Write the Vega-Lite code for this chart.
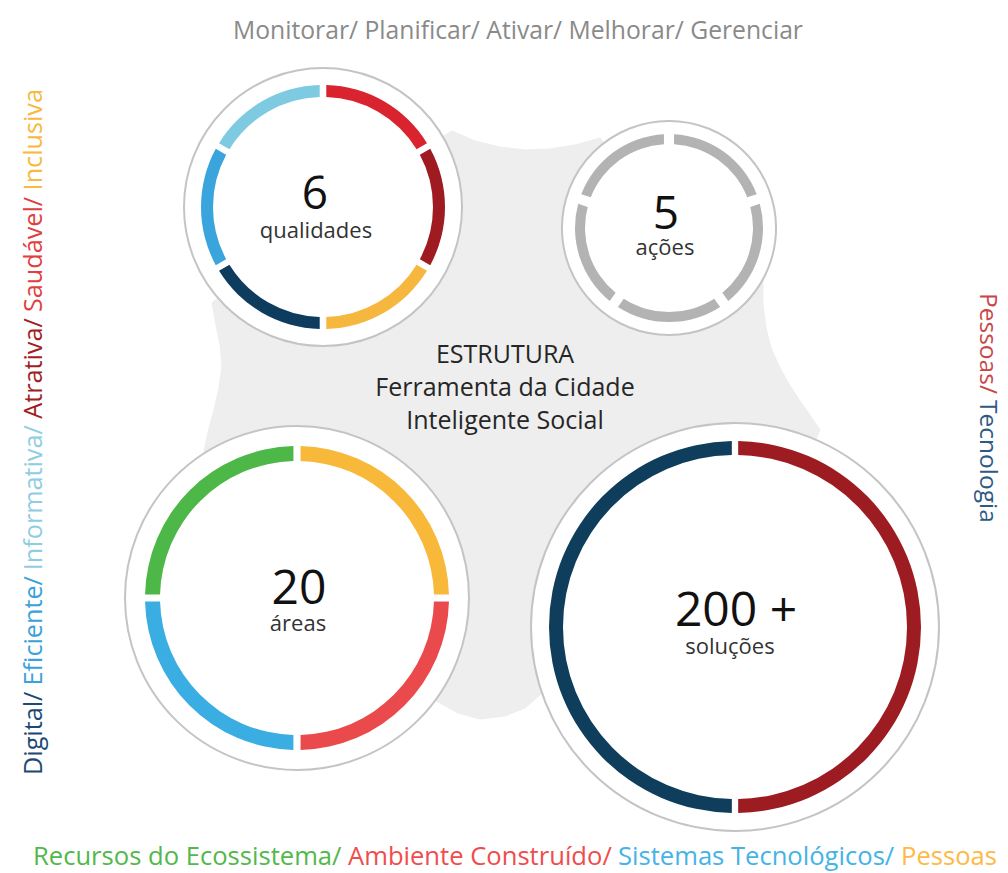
{
  "$schema": "https://vega.github.io/schema/vega-lite/v6.json",
  "width": 1008,
  "height": 873,
  "padding": 0,
  "autosize": {"type": "none"},
  "background": "white",
  "config": {"view": {"stroke": null}, "font": "Open Sans"},
  "resolve": {"scale": {"color": "independent"}},
  "datasets": {
    "blob": [
      {"i": 1, "x": 322, "y": 207}, {"i": 2, "x": 452, "y": 131}, {"i": 3, "x": 475, "y": 141},
      {"i": 4, "x": 500, "y": 147}, {"i": 5, "x": 525, "y": 150}, {"i": 6, "x": 550, "y": 149},
      {"i": 7, "x": 575, "y": 145}, {"i": 8, "x": 600, "y": 138}, {"i": 9, "x": 669, "y": 228},
      {"i": 10, "x": 763, "y": 280}, {"i": 11, "x": 763, "y": 305}, {"i": 12, "x": 766, "y": 328},
      {"i": 13, "x": 771, "y": 348}, {"i": 14, "x": 779, "y": 366}, {"i": 15, "x": 789, "y": 384},
      {"i": 16, "x": 800, "y": 401}, {"i": 17, "x": 812, "y": 418}, {"i": 18, "x": 820, "y": 430},
      {"i": 19, "x": 735, "y": 627}, {"i": 20, "x": 541, "y": 694}, {"i": 21, "x": 525, "y": 708},
      {"i": 22, "x": 505, "y": 716}, {"i": 23, "x": 480, "y": 719}, {"i": 24, "x": 458, "y": 713},
      {"i": 25, "x": 438, "y": 702}, {"i": 26, "x": 297, "y": 598}, {"i": 27, "x": 204, "y": 452},
      {"i": 28, "x": 208, "y": 432}, {"i": 29, "x": 214, "y": 410}, {"i": 30, "x": 219, "y": 388},
      {"i": 31, "x": 222, "y": 366}, {"i": 32, "x": 220, "y": 345}, {"i": 33, "x": 216, "y": 325},
      {"i": 34, "x": 212, "y": 303}
    ],
    "circles": [
      {"ring": "qualidades", "x": 323, "y": 207, "start": 0, "end": 360},
      {"ring": "acoes", "x": 669, "y": 228, "start": 0, "end": 360},
      {"ring": "areas", "x": 297, "y": 598, "start": 0, "end": 360},
      {"ring": "solucoes", "x": 735, "y": 627, "start": 0, "end": 360}
    ],
    "segments": [
      {"ring": "qualidades", "x": 323, "y": 207, "start": 0, "end": 60, "cat": "Saudável"},
      {"ring": "qualidades", "x": 323, "y": 207, "start": 60, "end": 120, "cat": "Atrativa"},
      {"ring": "qualidades", "x": 323, "y": 207, "start": 120, "end": 180, "cat": "Inclusiva"},
      {"ring": "qualidades", "x": 323, "y": 207, "start": 180, "end": 240, "cat": "Digital"},
      {"ring": "qualidades", "x": 323, "y": 207, "start": 240, "end": 300, "cat": "Eficiente"},
      {"ring": "qualidades", "x": 323, "y": 207, "start": 300, "end": 360, "cat": "Informativa"},
      {"ring": "acoes", "x": 669, "y": 228, "start": 0, "end": 72, "cat": "Ações"},
      {"ring": "acoes", "x": 669, "y": 228, "start": 72, "end": 144, "cat": "Ações"},
      {"ring": "acoes", "x": 669, "y": 228, "start": 144, "end": 216, "cat": "Ações"},
      {"ring": "acoes", "x": 669, "y": 228, "start": 216, "end": 288, "cat": "Ações"},
      {"ring": "acoes", "x": 669, "y": 228, "start": 288, "end": 360, "cat": "Ações"},
      {"ring": "areas", "x": 297, "y": 598, "start": 0, "end": 90, "cat": "Pessoas (áreas)"},
      {"ring": "areas", "x": 297, "y": 598, "start": 90, "end": 180, "cat": "Ambiente Construído"},
      {"ring": "areas", "x": 297, "y": 598, "start": 180, "end": 270, "cat": "Sistemas Tecnológicos"},
      {"ring": "areas", "x": 297, "y": 598, "start": 270, "end": 360, "cat": "Recursos do Ecossistema"},
      {"ring": "solucoes", "x": 735, "y": 627, "start": 0, "end": 180, "cat": "Pessoas"},
      {"ring": "solucoes", "x": 735, "y": 627, "start": 180, "end": 360, "cat": "Tecnologia"}
    ],
    "left": [
      {"x": 42, "y": 775, "cat": "Digital", "label": "Digital/"},
      {"x": 42, "y": 685.4, "cat": "Eficiente", "label": "Eficiente/"},
      {"x": 42, "y": 570.2, "cat": "Informativa", "label": "Informativa/"},
      {"x": 42, "y": 418.7, "cat": "Atrativa", "label": "Atrativa/"},
      {"x": 42, "y": 312, "cat": "Saudável", "label": "Saudável/"},
      {"x": 42, "y": 190.4, "cat": "Inclusiva", "label": "Inclusiva"}
    ],
    "right": [
      {"x": 980, "y": 293, "cat": "Pessoas", "label": "Pessoas/"},
      {"x": 980, "y": 400, "cat": "Tecnologia", "label": "Tecnologia"}
    ],
    "bottom": [
      {"x": 33, "y": 865, "cat": "Recursos do Ecossistema", "label": "Recursos do Ecossistema/"},
      {"x": 348, "y": 865, "cat": "Ambiente Construído", "label": "Ambiente Construído/"},
      {"x": 618, "y": 865, "cat": "Sistemas Tecnológicos", "label": "Sistemas Tecnológicos/"},
      {"x": 901, "y": 865, "cat": "Pessoas", "label": "Pessoas"}
    ],
    "title": [
      {"x": 518, "y": 39, "label": "Monitorar/ Planificar/ Ativar/ Melhorar/ Gerenciar"}
    ],
    "center": [
      {"x": 505, "y": 363, "label": "ESTRUTURA"},
      {"x": 505, "y": 396, "label": "Ferramenta da Cidade"},
      {"x": 505, "y": 429, "label": "Inteligente Social"}
    ],
    "numbers": [
      {"x": 315, "y": 209, "label": "6", "size": "small"},
      {"x": 666, "y": 229, "label": "5", "size": "small"},
      {"x": 299, "y": 604, "label": "20", "size": "big"},
      {"x": 736, "y": 626, "label": "200 +", "size": "big"}
    ],
    "captions": [
      {"x": 316, "y": 238, "label": "qualidades"},
      {"x": 665, "y": 255, "label": "ações"},
      {"x": 298, "y": 631, "label": "áreas"},
      {"x": 730, "y": 654, "label": "soluções"}
    ]
  },
  "layer": [
    {
      "data": {"name": "blob"},
      "mark": {"type": "line", "interpolate": "linear-closed", "fill": "#eeeeee", "stroke": "#eeeeee", "strokeWidth": 1},
      "encoding": {
        "x": {"field": "x", "type": "quantitative", "scale": {"domain": [0, 1008], "nice": false, "zero": false}, "axis": null},
        "y": {"field": "y", "type": "quantitative", "scale": {"domain": [0, 873], "nice": false, "zero": false, "reverse": true}, "axis": null},
        "order": {"field": "i", "type": "quantitative"}
      }
    },
    {
      "data": {"name": "circles"},
      "transform": [{"filter": "datum.ring === 'qualidades'"}],
      "mark": {"type": "arc", "radius": 139, "fill": "white", "stroke": "#c4c4c4", "strokeWidth": 2},
      "encoding": {
        "x": {"field": "x", "type": "quantitative"},
        "y": {"field": "y", "type": "quantitative"},
        "theta": {"field": "start", "type": "quantitative", "scale": {"domain": [0, 360]}, "stack": null},
        "theta2": {"field": "end"}
      }
    },
    {
      "data": {"name": "circles"},
      "transform": [{"filter": "datum.ring === 'acoes'"}],
      "mark": {"type": "arc", "radius": 107, "fill": "white", "stroke": "#c4c4c4", "strokeWidth": 2},
      "encoding": {
        "x": {"field": "x", "type": "quantitative"},
        "y": {"field": "y", "type": "quantitative"},
        "theta": {"field": "start", "type": "quantitative", "scale": {"domain": [0, 360]}, "stack": null},
        "theta2": {"field": "end"}
      }
    },
    {
      "data": {"name": "circles"},
      "transform": [{"filter": "datum.ring === 'areas'"}],
      "mark": {"type": "arc", "radius": 172, "fill": "white", "stroke": "#c4c4c4", "strokeWidth": 2},
      "encoding": {
        "x": {"field": "x", "type": "quantitative"},
        "y": {"field": "y", "type": "quantitative"},
        "theta": {"field": "start", "type": "quantitative", "scale": {"domain": [0, 360]}, "stack": null},
        "theta2": {"field": "end"}
      }
    },
    {
      "data": {"name": "circles"},
      "transform": [{"filter": "datum.ring === 'solucoes'"}],
      "mark": {"type": "arc", "radius": 204, "fill": "white", "stroke": "#c4c4c4", "strokeWidth": 2},
      "encoding": {
        "x": {"field": "x", "type": "quantitative"},
        "y": {"field": "y", "type": "quantitative"},
        "theta": {"field": "start", "type": "quantitative", "scale": {"domain": [0, 360]}, "stack": null},
        "theta2": {"field": "end"}
      }
    },
    {
      "data": {"name": "segments"},
      "transform": [{"filter": "datum.ring === 'qualidades'"}],
      "mark": {"type": "arc", "radius": 122, "radius2": 110, "padAngle": 0.04},
      "encoding": {
        "x": {"field": "x", "type": "quantitative"},
        "y": {"field": "y", "type": "quantitative"},
        "theta": {"field": "start", "type": "quantitative", "scale": {"domain": [0, 360]}, "stack": null},
        "theta2": {"field": "end"},
        "color": {"field": "cat", "type": "nominal", "legend": null,
          "scale": {"domain": ["Saudável", "Atrativa", "Inclusiva", "Digital", "Eficiente", "Informativa"],
                    "range": ["#d92430", "#9e1b21", "#f6b73f", "#0e3c5f", "#3aa5dd", "#7ecbe1"]}}
      }
    },
    {
      "data": {"name": "segments"},
      "transform": [{"filter": "datum.ring === 'acoes'"}],
      "mark": {"type": "arc", "radius": 94, "radius2": 84, "padAngle": 0.08},
      "encoding": {
        "x": {"field": "x", "type": "quantitative"},
        "y": {"field": "y", "type": "quantitative"},
        "theta": {"field": "start", "type": "quantitative", "scale": {"domain": [0, 360]}, "stack": null},
        "theta2": {"field": "end"},
        "color": {"field": "cat", "type": "nominal", "legend": null,
          "scale": {"domain": ["Ações"], "range": ["#b3b3b3"]}}
      }
    },
    {
      "data": {"name": "segments"},
      "transform": [{"filter": "datum.ring === 'areas'"}],
      "mark": {"type": "arc", "radius": 152, "radius2": 137, "padAngle": 0.035},
      "encoding": {
        "x": {"field": "x", "type": "quantitative"},
        "y": {"field": "y", "type": "quantitative"},
        "theta": {"field": "start", "type": "quantitative", "scale": {"domain": [0, 360]}, "stack": null},
        "theta2": {"field": "end"},
        "color": {"field": "cat", "type": "nominal", "legend": null,
          "scale": {"domain": ["Pessoas (áreas)", "Ambiente Construído", "Sistemas Tecnológicos", "Recursos do Ecossistema"],
                    "range": ["#f8b93b", "#ea4a4c", "#3aaee2", "#4db848"]}}
      }
    },
    {
      "data": {"name": "segments"},
      "transform": [{"filter": "datum.ring === 'solucoes'"}],
      "mark": {"type": "arc", "radius": 186, "radius2": 172, "padAngle": 0.025},
      "encoding": {
        "x": {"field": "x", "type": "quantitative"},
        "y": {"field": "y", "type": "quantitative"},
        "theta": {"field": "start", "type": "quantitative", "scale": {"domain": [0, 360]}, "stack": null},
        "theta2": {"field": "end"},
        "color": {"field": "cat", "type": "nominal", "legend": null,
          "scale": {"domain": ["Pessoas", "Tecnologia"], "range": ["#9c1c22", "#0f3d5c"]}}
      }
    },
    {
      "data": {"name": "left"},
      "mark": {"type": "text", "angle": 270, "align": "left", "baseline": "alphabetic", "font": "Open Sans", "fontSize": 25.2},
      "encoding": {
        "x": {"field": "x", "type": "quantitative"},
        "y": {"field": "y", "type": "quantitative"},
        "text": {"field": "label"},
        "color": {"field": "cat", "type": "nominal", "legend": null,
          "scale": {"domain": ["Digital", "Eficiente", "Informativa", "Atrativa", "Saudável", "Inclusiva"],
                    "range": ["#1d4a75", "#3aa2da", "#8ecde3", "#a01e24", "#e0413f", "#f7b940"]}}
      }
    },
    {
      "data": {"name": "right"},
      "mark": {"type": "text", "angle": 90, "align": "left", "baseline": "alphabetic", "font": "Open Sans", "fontSize": 24.5},
      "encoding": {
        "x": {"field": "x", "type": "quantitative"},
        "y": {"field": "y", "type": "quantitative"},
        "text": {"field": "label"},
        "color": {"field": "cat", "type": "nominal", "legend": null,
          "scale": {"domain": ["Pessoas", "Tecnologia"], "range": ["#c8474a", "#2e5b82"]}}
      }
    },
    {
      "data": {"name": "bottom"},
      "mark": {"type": "text", "align": "left", "baseline": "alphabetic", "font": "Open Sans", "fontSize": 25.6},
      "encoding": {
        "x": {"field": "x", "type": "quantitative"},
        "y": {"field": "y", "type": "quantitative"},
        "text": {"field": "label"},
        "color": {"field": "cat", "type": "nominal", "legend": null,
          "scale": {"domain": ["Recursos do Ecossistema", "Ambiente Construído", "Sistemas Tecnológicos", "Pessoas"],
                    "range": ["#52b84c", "#ef4d4c", "#45b3e6", "#fdba46"]}}
      }
    },
    {
      "data": {"name": "title"},
      "mark": {"type": "text", "align": "center", "baseline": "alphabetic", "font": "Open Sans", "fontSize": 24.7, "color": "#8a8a8a"},
      "encoding": {
        "x": {"field": "x", "type": "quantitative"},
        "y": {"field": "y", "type": "quantitative"},
        "text": {"field": "label"}
      }
    },
    {
      "data": {"name": "center"},
      "mark": {"type": "text", "align": "center", "baseline": "alphabetic", "font": "Open Sans", "fontSize": 25, "fontWeight": 500, "color": "#262626"},
      "encoding": {
        "x": {"field": "x", "type": "quantitative"},
        "y": {"field": "y", "type": "quantitative"},
        "text": {"field": "label"}
      }
    },
    {
      "data": {"name": "numbers"},
      "mark": {"type": "text", "align": "center", "baseline": "alphabetic", "font": "Open Sans", "color": "#111111"},
      "encoding": {
        "x": {"field": "x", "type": "quantitative"},
        "y": {"field": "y", "type": "quantitative"},
        "text": {"field": "label"},
        "size": {"field": "size", "type": "nominal", "legend": null, "scale": {"domain": ["small", "big"], "range": [46, 48]}}
      }
    },
    {
      "data": {"name": "captions"},
      "mark": {"type": "text", "align": "center", "baseline": "alphabetic", "font": "Open Sans", "fontSize": 22, "fontWeight": 500, "color": "#333333"},
      "encoding": {
        "x": {"field": "x", "type": "quantitative"},
        "y": {"field": "y", "type": "quantitative"},
        "text": {"field": "label"}
      }
    }
  ]
}
